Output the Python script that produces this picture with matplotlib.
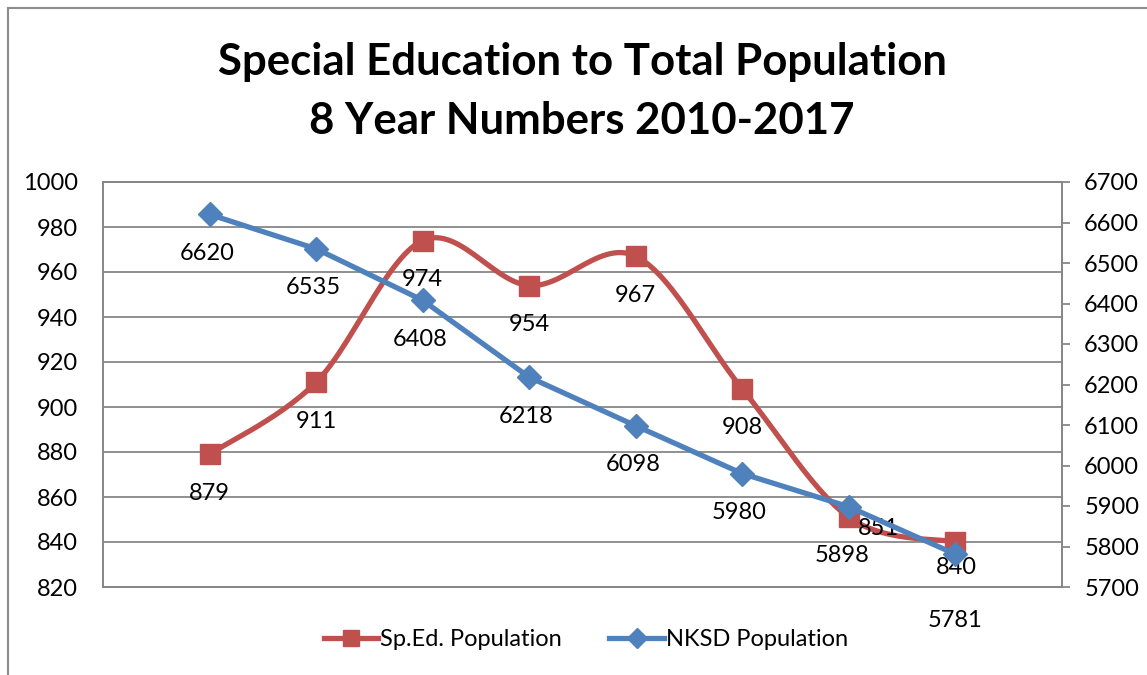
import numpy as np
import matplotlib.pyplot as plt
from matplotlib.lines import Line2D

plt.rcParams['font.family'] = ['Lato', 'DejaVu Sans']

years = [2010, 2011, 2012, 2013, 2014, 2015, 2016, 2017]
sped = [879, 911, 974, 954, 967, 908, 851, 840]
nksd = [6620, 6535, 6408, 6218, 6098, 5980, 5898, 5781]

red = '#C0504D'
blue = '#4F81BD'
grid_c = '#878787'

W, H = 1147, 675
fig = plt.figure(figsize=(W / 100, H / 100), dpi=100)

# outer chart border (left and top edges visible)
fig.add_artist(Line2D([8 / W, 8 / W], [0, 1 - 8 / H], color='#8c8c8c', lw=1.5))
fig.add_artist(Line2D([8 / W, 1], [1 - 8 / H, 1 - 8 / H], color='#8c8c8c', lw=1.5))

fig.text(582 / W, 1 - 62 / H, 'Special Education to Total Population',
         ha='center', va='center', fontsize=31.5, fontweight='bold')
fig.text(582 / W, 1 - 121 / H, '8 Year Numbers 2010-2017',
         ha='center', va='center', fontsize=31.5, fontweight='bold')

ax = fig.add_axes([103 / W, 1 - 587 / H, (1062 - 103) / W, (587 - 182) / H])
ax2 = ax.twinx()

x = np.arange(1, len(years) + 1)
ax.set_xlim(0, len(years) + 1)
ax.set_ylim(820, 1000)
ax.set_yticks(np.arange(820, 1001, 20))
ax2.set_ylim(5700, 6700)
ax2.set_yticks(np.arange(5700, 6701, 100))
ax.set_xticks([])

ax.grid(axis='y', color=grid_c, lw=1.3)
ax.set_axisbelow(True)
for a in (ax, ax2):
    for s in a.spines.values():
        s.set_color(grid_c)
        s.set_linewidth(1.3)
ax2.patch.set_visible(False)
ax.tick_params(axis='y', length=0, pad=18, labelsize=17)
ax2.tick_params(axis='y', length=6, width=1.3, color=grid_c, pad=10, labelsize=17)


def smooth(a, xs, ys, n=30):
    # Excel-style smoothing: Catmull-Rom bezier in screen space
    pts = a.transData.transform(np.column_stack([xs, ys]))
    p = np.vstack([pts[0], pts, pts[-1]])
    out = []
    t = np.linspace(0, 1, n)[:, None]
    for i in range(1, len(p) - 2):
        p0, p1, p2, p3 = p[i - 1], p[i], p[i + 1], p[i + 2]
        c1 = p1 + (p2 - p0) / 6
        c2 = p2 - (p3 - p1) / 6
        seg = ((1 - t) ** 3) * p1 + 3 * ((1 - t) ** 2) * t * c1 + 3 * (1 - t) * t ** 2 * c2 + t ** 3 * p2
        out.append(seg)
    out = np.vstack(out)
    return a.transData.inverted().transform(out)


curve = smooth(ax, x, sped)
ax.plot(curve[:, 0], curve[:, 1], color=red, lw=3.8, solid_capstyle='round', zorder=3)
ax.plot(x, sped, ls='none', marker='s', ms=14, color=red, zorder=4)
ax2.plot(x, nksd, color=blue, lw=3.8, marker='D', ms=12, solid_joinstyle='round', zorder=4)

# label offsets in points (dx, dy); last points nudged as in the original
off_sped = [(0, -28)] * 6 + [(21, -8), (1, -18)]
off_nksd = [(-2, -28)] * 6 + [(-5, -35), (0, -48)]
for xi, v, o in zip(x, sped, off_sped):
    ax.annotate(str(v), (xi, v), xytext=o, textcoords='offset points',
                ha='center', va='center', fontsize=17, annotation_clip=False, zorder=6)
for xi, v, o in zip(x, nksd, off_nksd):
    ax2.annotate(str(v), (xi, v), xytext=o, textcoords='offset points',
                 ha='center', va='center', fontsize=17, annotation_clip=False, zorder=6)

handles = [Line2D([], [], color=red, lw=3.8, marker='s', ms=12),
           Line2D([], [], color=blue, lw=3.8, marker='D', ms=10)]
fig.legend(handles, ['Sp.Ed. Population', 'NKSD Population'], loc='center',
           bbox_to_anchor=(586 / W, 1 - 640 / H), ncol=2, frameon=False,
           fontsize=17, handlelength=2.3, handletextpad=0.1, columnspacing=2.0)

fig.savefig('out.png', dpi=100)
